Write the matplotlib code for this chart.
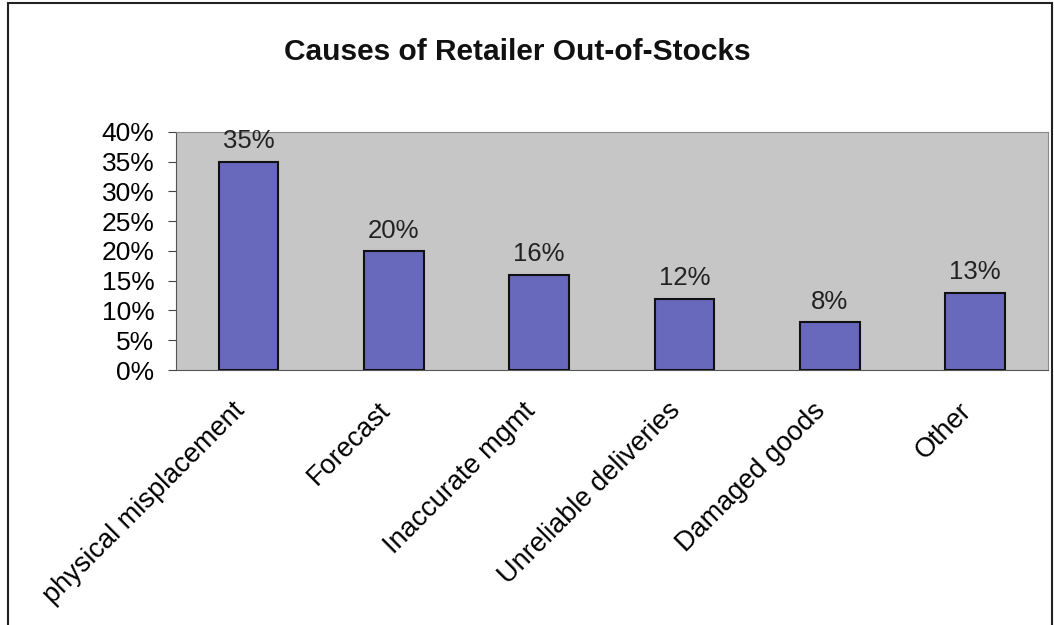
import matplotlib.pyplot as plt
from matplotlib.patches import Rectangle
from matplotlib.ticker import PercentFormatter
from matplotlib.transforms import ScaledTranslation

plt.rcParams['font.family'] = ['Liberation Sans', 'DejaVu Sans']

categories = ['physical misplacement', 'Forecast', 'Inaccurate mgmt',
              'Unreliable deliveries', 'Damaged goods', 'Other']
shares = [0.35, 0.20, 0.16, 0.12, 0.08, 0.13]
value_labels = ['35%', '20%', '16%', '12%', '8%', '13%']

fig = plt.figure(figsize=(10.54, 6.25), dpi=100)
ax = fig.add_axes([0.167, 0.408, 0.827, 0.381])

# outer chart border
fig.patches.append(Rectangle((0.008, -0.01), 0.99, 1.005, transform=fig.transFigure,
                             fill=False, edgecolor='#222222', linewidth=1.5))

ax.set_facecolor('#c6c6c6')
x = range(len(categories))
ax.bar(x, shares, width=0.41, color='#6868bc', edgecolor='#111111', linewidth=1.5, zorder=3)

for i, (v, lab) in enumerate(zip(shares, value_labels)):
    ax.text(i, v + 0.014, lab, ha='center', va='bottom', fontsize=18.5, color='#222222')

ax.set_xlim(-0.5, len(categories) - 0.5)
ax.set_ylim(0, 0.40)
ax.set_yticks([i * 0.05 for i in range(9)])
ax.yaxis.set_major_formatter(PercentFormatter(1.0, decimals=0))
ax.set_xticks(list(x))
ax.set_xticklabels(categories, rotation=45, ha='right', rotation_mode='anchor', fontsize=19.5)
ax.tick_params(axis='y', labelsize=19, length=6, color='#444444', pad=9.5)
ax.tick_params(axis='x', length=0, pad=12)

# nudge the slanted labels so their ends sit just under the bars
shift = ScaledTranslation(-0.17, -0.11, fig.dpi_scale_trans)
for lbl in ax.get_xticklabels():
    lbl.set_transform(lbl.get_transform() + shift)

for side in ['top', 'right']:
    ax.spines[side].set_color('#888888')
    ax.spines[side].set_linewidth(0.8)
ax.spines['left'].set_color('#555555')
ax.spines['bottom'].set_color('#555555')

fig.text(0.491, 0.917, 'Causes of Retailer Out-of-Stocks', ha='center', va='center',
         fontsize=21.5, fontweight='bold', color='#111111')

fig.savefig('out.png', dpi=100)
